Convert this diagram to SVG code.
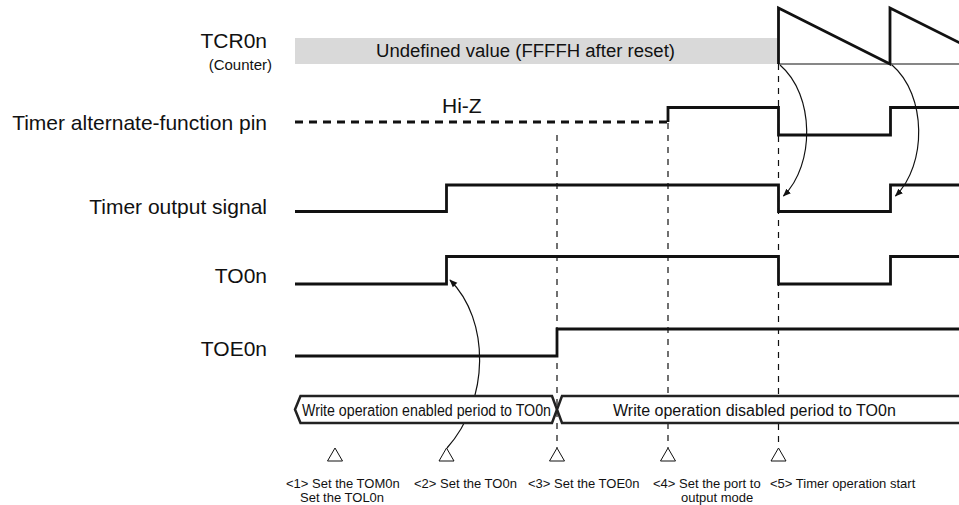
<svg xmlns="http://www.w3.org/2000/svg" width="959" height="505" viewBox="0 0 959 505">
<style>
text{font-family:"Liberation Sans",Arial,Helvetica,sans-serif;fill:#111}
.lbl{font-size:21px;text-anchor:end}
.sig{fill:none;stroke:#111;stroke-width:2.8;stroke-linejoin:miter;stroke-linecap:butt}
.thin{fill:none;stroke:#111;stroke-width:1.2}
.vdash{fill:none;stroke:#111;stroke-width:1.2;stroke-dasharray:6 6}
.bus{fill:#fff;stroke:#222;stroke-width:2.5;stroke-linejoin:miter}
.tri{fill:#fff;stroke:#111;stroke-width:1}
.step{font-size:13px}
.arr{fill:none;stroke:#111;stroke-width:1.2}
</style>
<defs>
<marker id="ah" viewBox="0 0 10 10" refX="9" refY="5" markerWidth="8" markerHeight="8" markerUnits="userSpaceOnUse" orient="auto">
<path d="M0,1 L10,5 L0,9 z" fill="#111"/>
</marker>
</defs>

<g id="guides">
<line class="vdash" x1="557" y1="135" x2="557" y2="448"/>
<line class="vdash" x1="668" y1="123" x2="668" y2="448"/>
<line class="vdash" x1="778.5" y1="64" x2="778.5" y2="448"/>
</g>

<g id="tcr0n">
<text class="lbl" x="267" y="48">TCR0n</text>
<text x="272" y="70" style="font-size:15px;text-anchor:end">(Counter)</text>
<rect x="295" y="38" width="483" height="26" fill="#d9d9d9"/>
<text x="376" y="57" style="font-size:18px" textLength="299" lengthAdjust="spacingAndGlyphs">Undefined value (FFFFH after reset)</text>
<line class="thin" x1="778" y1="64" x2="959" y2="64"/>
<polyline class="sig" points="778.5,64 778.5,8 890,64 890,8 1002,64"/>
</g>

<g id="alt-pin">
<text class="lbl" x="267" y="130">Timer alternate-function pin</text>
<text x="442" y="113" style="font-size:21px">Hi-Z</text>
<line x1="295" y1="122" x2="668" y2="122" fill="none" stroke="#111" stroke-width="2.8" stroke-dasharray="8 6"/>
<polyline class="sig" points="668,122 668,107.5 778.5,107.5 778.5,135 890.5,135 890.5,107.5 960,107.5"/>
</g>

<g id="timer-output">
<text class="lbl" x="267" y="214">Timer output signal</text>
<polyline class="sig" points="295,211.5 446.5,211.5 446.5,185 778.5,185 778.5,211.5 890.5,211.5 890.5,185 960,185"/>
</g>

<g id="to0n">
<text class="lbl" x="267" y="283">TO0n</text>
<polyline class="sig" points="295,284 446.5,284 446.5,256.5 778.5,256.5 778.5,284 890.5,284 890.5,256.5 960,256.5"/>
</g>

<g id="toe0n">
<text class="lbl" x="267" y="356">TOE0n</text>
<polyline class="sig" points="295,356 557,356 557,329 960,329"/>
</g>

<g id="connectors">
<path class="arr" d="M780,65 C815,95 815,165 783.5,196" marker-end="url(#ah)"/>
<path class="arr" d="M892,65 C927,95 927,165 895.5,196" marker-end="url(#ah)"/>
<path class="arr" d="M447,448 C490,400 490,320 450,280" marker-end="url(#ah)"/>
</g>

<g id="write-enabled">
<polygon class="bus" points="295,409.5 300.5,396 552,396 557,409.5 552,423 300.5,423"/>
<text x="302" y="416" style="font-size:16px" textLength="249" lengthAdjust="spacingAndGlyphs">Write operation enabled period to TO0n</text>
</g>

<g id="write-disabled">
<polygon class="bus" points="557,409.5 562,396 965,396 965,423 562,423"/>
<text x="613" y="416" style="font-size:16px">Write operation disabled period to TO0n</text>
</g>

<g id="step1">
<polygon class="tri" points="335,448 327.5,461 342.5,461"/>
<text class="step" x="286" y="488">&lt;1&gt; Set the TOM0n</text>
<text class="step" x="300" y="502">Set the TOL0n</text>
</g>
<g id="step2">
<polygon class="tri" points="446.5,448 439,461 454,461"/>
<text class="step" x="414" y="488">&lt;2&gt; Set the TO0n</text>
</g>
<g id="step3">
<polygon class="tri" points="557,448 549.5,461 564.5,461"/>
<text class="step" x="528" y="488">&lt;3&gt; Set the TOE0n</text>
</g>
<g id="step4">
<polygon class="tri" points="668,448 660.5,461 675.5,461"/>
<text class="step" x="653" y="488">&lt;4&gt; Set the port to</text>
<text class="step" x="681" y="502">output mode</text>
</g>
<g id="step5">
<polygon class="tri" points="778.5,448 771,461 786,461"/>
<text class="step" x="770" y="488">&lt;5&gt; Timer operation start</text>
</g>
</svg>
